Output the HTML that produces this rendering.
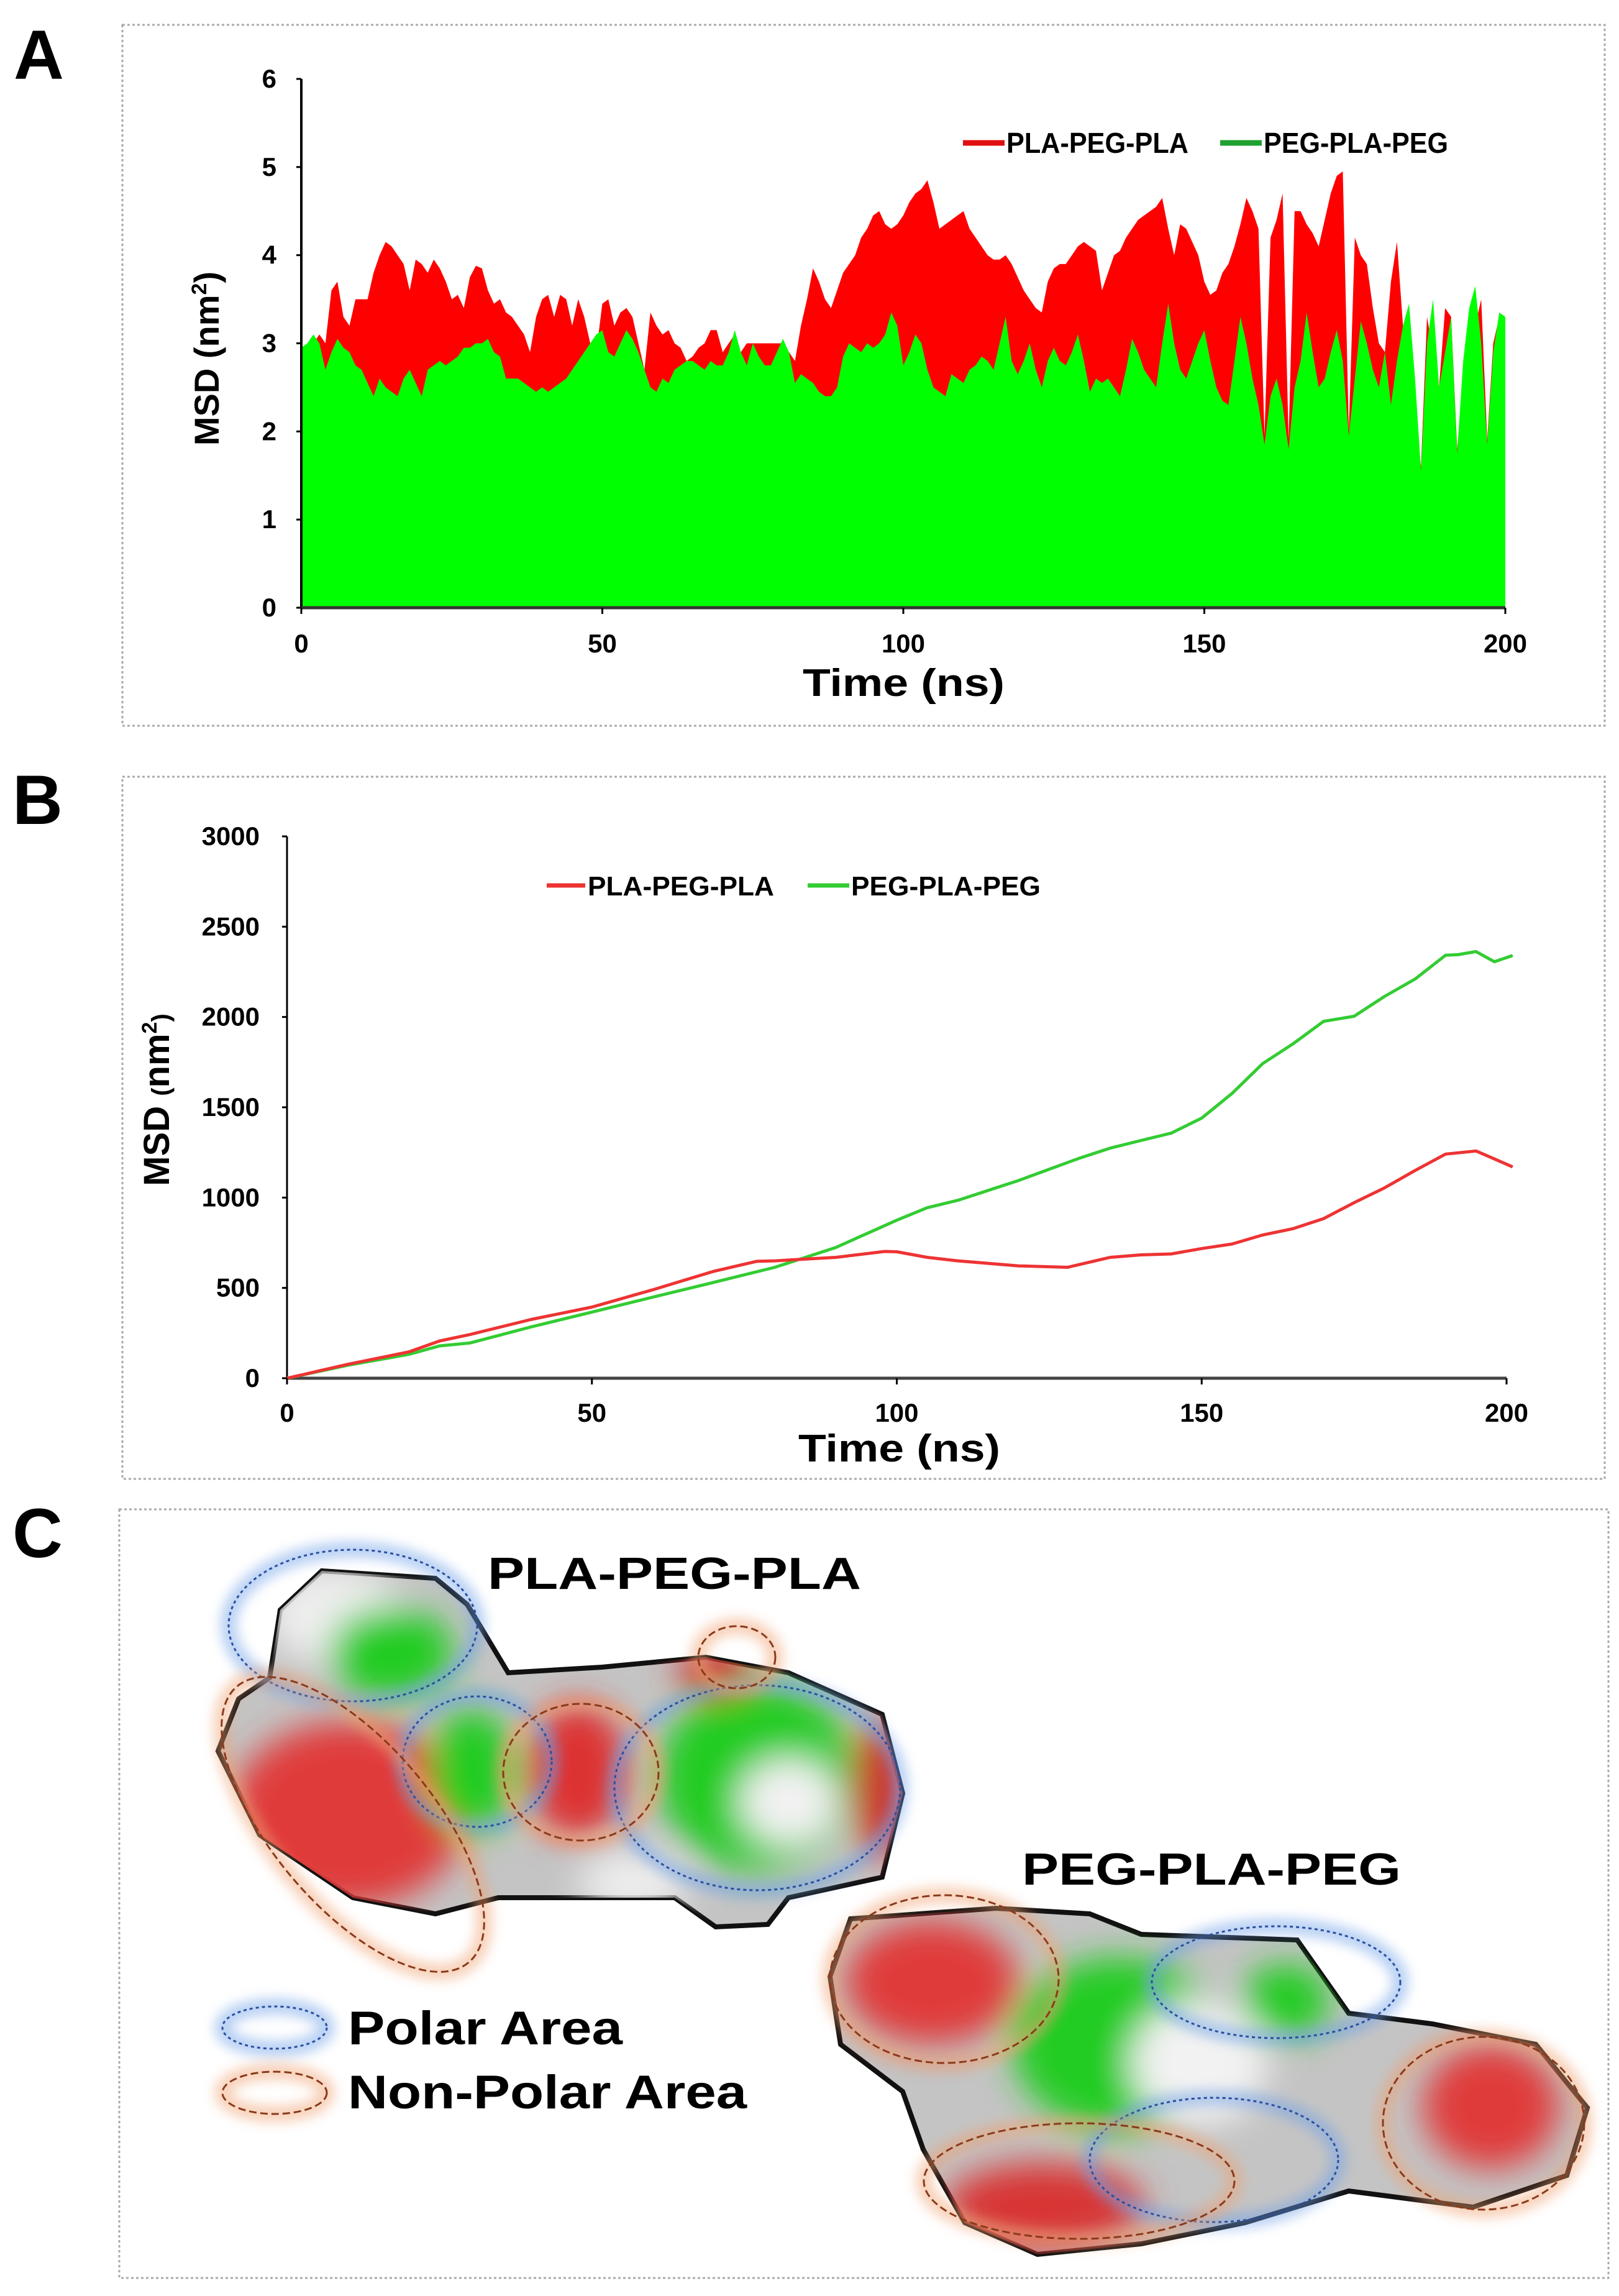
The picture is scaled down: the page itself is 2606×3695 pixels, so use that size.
<!DOCTYPE html>
<html><head><meta charset="utf-8">
<style>
html,body{margin:0;padding:0;background:#fff;}
svg{display:block;}
.nar{font-family:"Liberation Sans Narrow","Liberation Sans",sans-serif;font-weight:bold;}
.sans{font-family:"Liberation Sans",sans-serif;font-weight:bold;}
</style></head>
<body>
<svg id="fig" xmlns="http://www.w3.org/2000/svg" width="2606" height="3695" viewBox="0 0 2606 3695">
<defs>
<filter id="blur1" x="-20%" y="-20%" width="140%" height="140%"><feGaussianBlur stdDeviation="28"/></filter>
<filter id="glow" x="-30%" y="-30%" width="160%" height="160%"><feGaussianBlur stdDeviation="10"/></filter>
<clipPath id="m1clip"><polygon points="518,2528 701,2540 752,2582 818,2692 969,2683 1136,2667 1269,2692 1420,2759 1453,2886 1420,3021 1269,3054 1236,3097 1152,3101 1086,3054 802,3054 701,3080 568,3054 418,2953 351,2818 384,2734 434,2700 451,2591"/></clipPath>
<clipPath id="m2clip"><polygon points="1369,3088 1603,3071 1754,3080 1837,3113 2088,3122 2171,3240 2305,3257 2472,3290 2555,3392 2522,3501 2371,3552 2171,3526 2004,3577 1837,3611 1670,3628 1553,3577 1486,3459 1453,3366 1353,3290 1336,3181"/></clipPath>
</defs>

<rect x="197" y="40" width="2386" height="1128" fill="none" stroke="#aaa" stroke-width="3" stroke-dasharray="4 4"/>
<rect x="197" y="1250" width="2386" height="1130" fill="none" stroke="#aaa" stroke-width="3" stroke-dasharray="4 4"/>
<rect x="192" y="2429" width="2397" height="1237" fill="none" stroke="#aaa" stroke-width="3" stroke-dasharray="4 4"/>

<text class="sans" x="22" y="127" font-size="112">A</text>
<text class="sans" x="20" y="1326" font-size="112">B</text>
<text class="sans" x="20" y="2506" font-size="112">C</text>

<g id="chartA"></g>
<g id="chartB"></g>

<g>
  <polygon points="518,2528 701,2540 752,2582 818,2692 969,2683 1136,2667 1269,2692 1420,2759 1453,2886 1420,3021 1269,3054 1236,3097 1152,3101 1086,3054 802,3054 701,3080 568,3054 418,2953 351,2818 384,2734 434,2700 451,2591" fill="#c4c4c4" stroke="#111" stroke-width="8"/>
  <g clip-path="url(#m1clip)" filter="url(#blur1)">
    <ellipse cx="540" cy="2600" rx="110" ry="80" fill="#eeeeee"/>
    <ellipse cx="630" cy="2660" rx="100" ry="75" fill="#22cc22"/>
    <ellipse cx="560" cy="2920" rx="190" ry="150" fill="#e03a3a"/>
    <ellipse cx="760" cy="2850" rx="70" ry="100" fill="#22cc22"/>
    <ellipse cx="930" cy="2850" rx="80" ry="110" fill="#dd3333"/>
    <ellipse cx="1220" cy="2860" rx="160" ry="150" fill="#22cc22"/>
    <ellipse cx="1270" cy="2900" rx="80" ry="70" fill="#f2f2f2"/>
    <ellipse cx="1420" cy="2880" rx="50" ry="110" fill="#cc3333"/>
    <ellipse cx="1150" cy="2690" rx="60" ry="40" fill="#cc3333"/>
    <ellipse cx="1020" cy="3030" rx="90" ry="50" fill="#eeeeee"/>
  </g>
</g>
<g>
  <polygon points="1369,3088 1603,3071 1754,3080 1837,3113 2088,3122 2171,3240 2305,3257 2472,3290 2555,3392 2522,3501 2371,3552 2171,3526 2004,3577 1837,3611 1670,3628 1553,3577 1486,3459 1453,3366 1353,3290 1336,3181" fill="#c4c4c4" stroke="#111" stroke-width="8"/>
  <g clip-path="url(#m2clip)" filter="url(#blur1)">
    <ellipse cx="1500" cy="3190" rx="140" ry="100" fill="#e03a3a"/>
    <ellipse cx="2400" cy="3390" rx="110" ry="100" fill="#e03a3a"/>
    <ellipse cx="1680" cy="3550" rx="160" ry="70" fill="#d83535"/>
    <ellipse cx="1800" cy="3290" rx="170" ry="140" fill="#22cc22"/>
    <ellipse cx="1930" cy="3320" rx="110" ry="100" fill="#f2f2f2"/>
    <ellipse cx="2070" cy="3220" rx="70" ry="60" fill="#22cc22"/>
  </g>
</g>

<g fill="none">
  <g stroke="#6fa0e8" stroke-width="24" opacity="0.55" filter="url(#glow)">
    <ellipse cx="568" cy="2616" rx="200" ry="122"/>
    <ellipse cx="768" cy="2835" rx="120" ry="105"/>
    <ellipse cx="1219" cy="2877" rx="230" ry="165"/>
    <ellipse cx="2054" cy="3190" rx="200" ry="90"/>
    <ellipse cx="1954" cy="3476" rx="200" ry="100"/>
    <ellipse cx="442" cy="3263" rx="84" ry="34"/>
  </g>
  <g stroke="#2a4fa0" stroke-width="3" stroke-dasharray="5 5">
    <ellipse cx="568" cy="2616" rx="200" ry="122"/>
    <ellipse cx="768" cy="2835" rx="120" ry="105"/>
    <ellipse cx="1219" cy="2877" rx="230" ry="165"/>
    <ellipse cx="2054" cy="3190" rx="200" ry="90"/>
    <ellipse cx="1954" cy="3476" rx="200" ry="100"/>
    <ellipse cx="442" cy="3263" rx="84" ry="34"/>
  </g>
</g>
<g fill="none">
  <g stroke="#f0a070" stroke-width="24" opacity="0.55" filter="url(#glow)">
    <ellipse cx="568" cy="2936" rx="290" ry="130" transform="rotate(50 568 2936)"/>
    <ellipse cx="1186" cy="2667" rx="62" ry="50"/>
    <ellipse cx="935" cy="2852" rx="125" ry="110"/>
    <ellipse cx="1520" cy="3185" rx="184" ry="135"/>
    <ellipse cx="2388" cy="3417" rx="162" ry="139"/>
    <ellipse cx="1737" cy="3510" rx="250" ry="93"/>
    <ellipse cx="442" cy="3368" rx="84" ry="34"/>
  </g>
  <g stroke="#8a3a1a" stroke-width="3" stroke-dasharray="12 6">
    <ellipse cx="568" cy="2936" rx="290" ry="130" transform="rotate(50 568 2936)"/>
    <ellipse cx="1186" cy="2667" rx="62" ry="50"/>
    <ellipse cx="935" cy="2852" rx="125" ry="110"/>
    <ellipse cx="1520" cy="3185" rx="184" ry="135"/>
    <ellipse cx="2388" cy="3417" rx="162" ry="139"/>
    <ellipse cx="1737" cy="3510" rx="250" ry="93"/>
    <ellipse cx="442" cy="3368" rx="84" ry="34"/>
  </g>
</g>
<text class="nar" x="785" y="2557" font-size="72" textLength="601" lengthAdjust="spacingAndGlyphs">PLA-PEG-PLA</text>
<text class="nar" x="1645" y="3033" font-size="72" textLength="610" lengthAdjust="spacingAndGlyphs">PEG-PLA-PEG</text>
<text class="nar" x="560" y="3290" font-size="76" textLength="442" lengthAdjust="spacingAndGlyphs">Polar Area</text>
<text class="nar" x="560" y="3393" font-size="76" textLength="642" lengthAdjust="spacingAndGlyphs">Non-Polar Area</text>
</svg>

<script>
const timeA = Array.from({length:201},(_,i)=>i);
const plaPegPlaA = [2.9,3.0,3.0,3.1,3.0,3.6,3.7,3.3,3.2,3.5,3.5,3.5,3.8,4.0,4.15,4.1,4.0,3.9,3.6,3.95,3.9,3.8,3.95,3.85,3.7,3.5,3.55,3.4,3.75,3.88,3.85,3.6,3.45,3.5,3.35,3.3,3.2,3.1,2.9,3.3,3.5,3.55,3.3,3.55,3.5,3.2,3.5,3.3,3.0,2.9,3.45,3.5,3.2,3.35,3.4,3.3,3.0,2.7,3.35,3.2,3.1,3.15,3.0,2.95,2.8,2.85,2.95,3.0,3.15,3.15,2.9,3.0,3.1,2.9,3.0,3.0,3.0,3.0,3.0,3.0,3.0,2.9,2.8,3.2,3.5,3.85,3.7,3.5,3.4,3.6,3.8,3.9,4.0,4.2,4.3,4.45,4.5,4.35,4.3,4.35,4.45,4.6,4.7,4.75,4.85,4.6,4.3,4.35,4.4,4.45,4.5,4.3,4.2,4.1,4.0,3.95,3.95,4.0,3.9,3.75,3.6,3.5,3.4,3.35,3.7,3.85,3.9,3.9,4.0,4.1,4.15,4.1,4.05,3.6,3.8,4.0,4.05,4.2,4.3,4.4,4.45,4.5,4.55,4.65,4.3,4.0,4.35,4.3,4.15,4.0,3.7,3.55,3.6,3.8,3.9,4.1,4.35,4.65,4.5,4.3,1.95,4.2,4.4,4.7,1.9,4.5,4.5,4.35,4.25,4.1,4.4,4.7,4.9,4.95,2.0,4.2,4.0,3.9,3.4,3.0,2.9,3.7,4.15,3.2,3.0,2.2,1.6,3.3,2.9,2.5,3.4,3.3,1.8,2.6,3.0,3.2,3.5,1.9,3.0,3.3,3.3];
const pegPlaPegA = [2.95,3.0,3.1,3.0,2.7,2.9,3.05,2.95,2.9,2.75,2.7,2.55,2.4,2.6,2.5,2.45,2.4,2.6,2.7,2.55,2.4,2.7,2.75,2.8,2.75,2.8,2.85,2.95,2.95,3.0,3.0,3.05,2.9,2.85,2.6,2.6,2.6,2.55,2.5,2.45,2.5,2.45,2.5,2.55,2.6,2.7,2.8,2.9,3.0,3.1,3.15,2.9,2.85,3.0,3.15,3.05,2.9,2.7,2.5,2.45,2.6,2.55,2.7,2.75,2.8,2.8,2.75,2.7,2.8,2.75,2.75,2.9,3.15,2.9,2.75,3.0,2.85,2.75,2.75,2.9,3.05,2.9,2.55,2.65,2.6,2.55,2.45,2.4,2.4,2.5,2.85,3.0,2.95,2.9,3.0,2.95,3.0,3.1,3.35,3.2,2.75,2.9,3.1,3.0,2.7,2.5,2.45,2.4,2.65,2.6,2.55,2.7,2.75,2.85,2.8,2.7,3.0,3.3,2.8,2.65,2.8,3.0,2.7,2.5,2.8,2.95,2.8,2.75,2.9,3.1,2.8,2.45,2.6,2.55,2.6,2.5,2.4,2.7,3.05,2.9,2.7,2.6,2.5,3.0,3.45,3.0,2.7,2.6,2.8,3.0,3.15,2.8,2.5,2.35,2.3,2.8,3.3,3.0,2.6,2.3,1.85,2.4,2.6,2.3,1.8,2.5,2.8,3.35,2.9,2.5,2.6,2.9,3.15,2.8,1.95,2.6,3.25,3.0,2.7,2.5,2.9,2.3,2.8,3.2,3.45,2.6,1.55,3.0,3.5,2.5,2.9,3.3,1.75,2.8,3.4,3.65,3.0,1.85,2.9,3.35,3.3];
const yTicksA = [0,1,2,3,4,5,6];
const xTicksA = [0,50,100,150,200];

const timeB = [0,10,20,25,30,40,50,60,70,77,80,90,98,100,105,110,120,128,135,140,145,150,155,160,165,170,175,180,185,190,195,198,201];
const plaPegPlaB = [0,77,146,206,242,325,394,490,592,647,650,669,702,700,669,650,622,614,669,683,688,718,743,793,828,884,972,1054,1150,1241,1258,1214,1170];
const timeBg = [0,10,20,25,30,40,50,60,70,80,90,100,105,110,120,130,135,140,145,150,155,160,165,170,175,180,185,190,192,195,198,201];
const pegPlaPegB = [0,72,132,179,195,284,366,449,531,614,724,875,944,985,1095,1219,1274,1316,1357,1440,1577,1742,1852,1976,2004,2114,2210,2342,2345,2362,2306,2340];
const yTicksB = [0,500,1000,1500,2000,2500,3000];
const xTicksB = [0,50,100,150,200];

const NS='http://www.w3.org/2000/svg';
function mk(tag, attrs, parent){const e=document.createElementNS(NS,tag);for(const k in attrs)e.setAttribute(k,attrs[k]);parent.appendChild(e);return e;}

(function(){
  const g=document.getElementById('chartA');
  const X0=485,X1=2423,Y0=978,Y1=127;
  const sx=t=>X0+(t-0)/200*(X1-X0);
  const sy=v=>Y0-(v/6)*(Y0-Y1);
  function area(vals){let d='M'+sx(timeA[0])+','+Y0;for(let i=0;i<vals.length;i++)d+=' L'+sx(timeA[i]).toFixed(1)+','+sy(vals[i]).toFixed(1);d+=' L'+sx(timeA[timeA.length-1])+','+Y0+' Z';return d;}
  const r=mk('path',{d:area(plaPegPlaA),fill:'#ff0000'},g);
  
  
  const gr=mk('path',{d:area(pegPlaPegA),fill:'#00ff00'},g);
  
  
  const ya=mk('line',{x1:X0,y1:Y1,x2:X0,y2:Y0,stroke:'#000','stroke-width':4},g);
  
  
  const xa=mk('line',{x1:X0,y1:Y0,x2:X1,y2:Y0,stroke:'#333','stroke-width':5},g);
  
  
  yTicksA.forEach(v=>{
    const tk=mk('line',{x1:X0-8,y1:sy(v),x2:X0,y2:sy(v),stroke:'#000','stroke-width':3},g);
    
    
    const t=mk('text',{x:445,y:sy(v)+14,'text-anchor':'end','font-size':42,class:'nar'},g);
    
    
    t.textContent=v;
  });
  xTicksA.forEach(v=>{
    const tk=mk('line',{x1:sx(v),y1:Y0,x2:sx(v),y2:Y0+10,stroke:'#000','stroke-width':3},g);
    
    
    const t=mk('text',{x:sx(v),y:1050,'text-anchor':'middle','font-size':42,class:'nar'},g);
    
    
    t.textContent=v;
  });
  const xt=mk('text',{x:1292,y:1120,'font-size':62,class:'sans',textLength:325,lengthAdjust:'spacingAndGlyphs'},g);
  
  
  xt.textContent='Time (ns)';
  const yt=mk('text',{x:0,y:0,'text-anchor':'middle','font-size':56,class:'sans',transform:'translate(352,577) rotate(-90)'},g);
  
  
  yt.innerHTML='MSD (nm<tspan font-size="34" dy="-20">2</tspan><tspan dy="20">)</tspan>';
  const l1=mk('line',{x1:1550,y1:230,x2:1617,y2:230,stroke:'#e01010','stroke-width':9},g);
  
  
  const t1=mk('text',{x:1620,y:246,'font-size':46,class:'nar',textLength:293,lengthAdjust:'spacingAndGlyphs'},g);
  
  
  t1.textContent='PLA-PEG-PLA';
  const l2=mk('line',{x1:1964,y1:230,x2:2031,y2:230,stroke:'#20a030','stroke-width':9},g);
  
  
  const t2=mk('text',{x:2034,y:246,'font-size':46,class:'nar',textLength:297,lengthAdjust:'spacingAndGlyphs'},g);
  
  
  t2.textContent='PEG-PLA-PEG';
})();

(function(){
  const g=document.getElementById('chartB');
  const X0=462,X1=2425,Y0=2218,Y1=1346;
  const sx=t=>X0+t/200*(X1-X0);
  const sy=v=>Y0-(v/3000)*(Y0-Y1);
  function line(ts,vals){return ts.map((t,i)=>(i?'L':'M')+sx(t).toFixed(1)+','+sy(vals[i]).toFixed(1)).join(' ');}
  const xa=mk('line',{x1:X0,y1:Y0,x2:X1,y2:Y0,stroke:'#444','stroke-width':5},g);
  
  
  const ya=mk('line',{x1:X0,y1:Y1,x2:X0,y2:Y0,stroke:'#000','stroke-width':3},g);
  
  
  const gl=mk('path',{d:line(timeBg,pegPlaPegB),fill:'none',stroke:'#33cc33','stroke-width':5,'stroke-linejoin':'round'},g);
  
  
  const rl=mk('path',{d:line(timeB,plaPegPlaB),fill:'none',stroke:'#ee3333','stroke-width':5,'stroke-linejoin':'round'},g);
  
  
  yTicksB.forEach(v=>{
    const tk=mk('line',{x1:X0-8,y1:sy(v),x2:X0,y2:sy(v),stroke:'#000','stroke-width':3},g);
    
    
    const t=mk('text',{x:418,y:sy(v)+14,'text-anchor':'end','font-size':42,class:'nar'},g);
    
    
    t.textContent=v;
  });
  xTicksB.forEach(v=>{
    const tk=mk('line',{x1:sx(v),y1:Y0,x2:sx(v),y2:Y0+10,stroke:'#000','stroke-width':3},g);
    
    
    const t=mk('text',{x:sx(v),y:2288,'text-anchor':'middle','font-size':42,class:'nar'},g);
    
    
    t.textContent=v;
  });
  const xt=mk('text',{x:1285,y:2352,'font-size':62,class:'sans',textLength:325,lengthAdjust:'spacingAndGlyphs'},g);
  
  
  xt.textContent='Time (ns)';
  const yt=mk('text',{x:0,y:0,'text-anchor':'middle','font-size':58,class:'sans',transform:'translate(272,1770) rotate(-90)'},g);
  
  
  yt.innerHTML='MSD <tspan font-size="40">(</tspan>nm<tspan font-size="34" dy="-20">2</tspan><tspan dy="20" font-size="40">)</tspan>';
  const l1=mk('line',{x1:880,y1:1425,x2:942,y2:1425,stroke:'#ee3333','stroke-width':7},g);
  
  
  const t1=mk('text',{x:946,y:1441,'font-size':44,class:'nar',textLength:300,lengthAdjust:'spacingAndGlyphs'},g);
  
  
  t1.textContent='PLA-PEG-PLA';
  const l2=mk('line',{x1:1300,y1:1425,x2:1367,y2:1425,stroke:'#33cc33','stroke-width':7},g);
  
  
  const t2=mk('text',{x:1370,y:1441,'font-size':44,class:'nar',textLength:305,lengthAdjust:'spacingAndGlyphs'},g);
  
  
  t2.textContent='PEG-PLA-PEG';
})();
</script>
</body></html>
